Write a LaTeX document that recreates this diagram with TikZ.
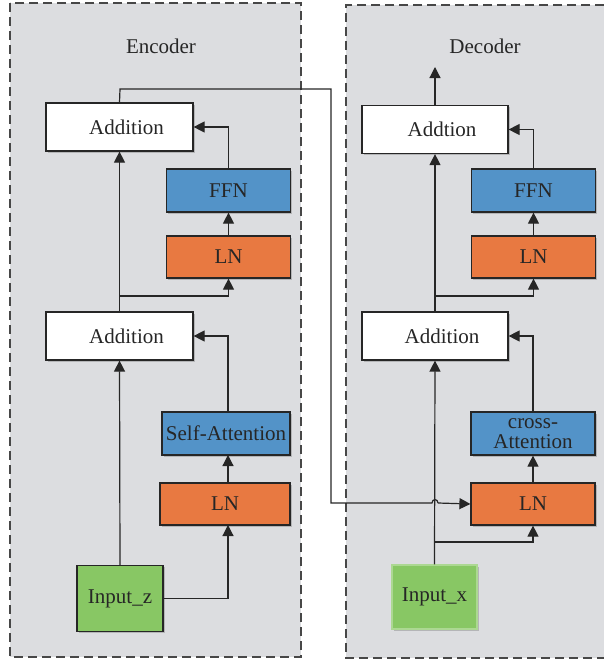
\documentclass[tikz,border=0pt]{standalone}
\usepackage{fontspec}
\setmainfont{Liberation Serif}
\usetikzlibrary{arrows.meta,shadows}
\definecolor{panelgray}{HTML}{DCDDE0}
\definecolor{lnorange}{HTML}{E87941}
\definecolor{ffnblue}{HTML}{5393C8}
\definecolor{ingreen}{HTML}{88C764}
\definecolor{ink}{HTML}{262626}
\tikzset{
  basebox/.style={draw=ink, line width=1.2pt, inner sep=0pt, text=ink,
    font=\fontsize{21}{19.5}\selectfont, align=center,
    drop shadow={shadow xshift=1.5pt, shadow yshift=-1.5pt, fill=black, opacity=0.18}},
  addbox/.style={basebox, fill=white, minimum width=147pt, minimum height=48pt},
  lnbox/.style={basebox, fill=lnorange, minimum width=124pt, minimum height=42pt},
  bluebox/.style={basebox, fill=ffnblue, minimum width=124pt, minimum height=43pt},
  inbox/.style={basebox, fill=ingreen, minimum width=86pt, minimum height=66pt},
  conn/.style={draw=ink, line width=1.2pt},
  arr/.style={conn, -{Triangle[length=11pt,width=11pt]}},
  panel/.style={draw=ink!85, line width=1.1pt, dash pattern=on 9pt off 5pt},
  titletext/.style={text=ink, font=\fontsize{21}{21}\selectfont}
}
\begin{document}
\begin{tikzpicture}[x=1pt,y=-1pt]
\useasboundingbox (0,0) rectangle (604,661);
% panels
\fill[panelgray] (10,3) rectangle (301,657);
\draw[panel] (10,3) rectangle (301,657);
\fill[panelgray] (346,5) rectangle (604,658);
\draw[panel] (604,5) -- (346,5) -- (346,658) -- (604,658);
\node[titletext] (enctitle) at (161,46) {Encoder};
\node[titletext] (dectitle) at (485,46) {Decoder};

% encoder nodes
\node[addbox] (eAdd2) at (119.5,127) {\hspace{14pt}Addition};
\node[bluebox] (eFFN) at (228.5,190.5) {FFN};
\node[lnbox] (eLN2) at (228.5,257) {LN};
\node[addbox] (eAdd1) at (119.5,336) {\hspace{14pt}Addition};
\node[bluebox, minimum width=128pt] (eSA) at (226,433.5) {Self-Attention};
\node[lnbox, minimum width=130pt] (eLN1) at (225,504) {LN};
\node[inbox] (inZ) at (120,598.5) {Input\_z};

% decoder nodes
\node[addbox, minimum width=146pt] (dAdd2) at (435,129.5) {\hspace{14pt}Addtion};
\node[bluebox] (dFFN) at (533.5,190.5) {FFN};
\node[lnbox] (dLN2) at (533.5,257) {LN};
\node[addbox, minimum width=146pt] (dAdd1) at (435,336) {\hspace{14pt}Addition};
\node[bluebox] (dCA) at (533,433.5) {cross-\\Attention};
\node[lnbox] (dLN1) at (533,504) {LN};
\node[inbox, draw=ingreen!70!white, minimum width=85pt, minimum height=64pt] (inX) at (434.5,597) {Input\_x};

% coordinates
\coordinate (eBr) at (120,296);
\coordinate (dBr) at (435,296);
\coordinate (dBr2) at (435,542);
\coordinate (out) at (435,67);
\coordinate (cTop) at (331,89);
\coordinate (cLeft) at (120,89);
\coordinate (cDown) at (331,503);
\coordinate (hopA) at (432,503);
\coordinate (hopB) at (438,503);
\coordinate (eLN1in) at (228,525);
\coordinate (eLN1out) at (228,483);
\coordinate (eSAin) at (228,455);
\coordinate (eSAout) at (228,412);

% encoder connectors
\draw[arr] (inZ.north) -- (eAdd1.south);
\draw[arr] (inZ.east) -| (eLN1in);
\draw[arr] (eLN1out) -- (eSAin);
\draw[arr] (eSAout) |- (eAdd1.east);
\draw[arr] (eAdd1.north) -- (eAdd2.south);
\draw[arr] (eBr) -| (eLN2.south);
\draw[arr] (eLN2.north) -- (eFFN.south);
\draw[arr] (eFFN.north) |- (eAdd2.east);
\draw[conn] (eAdd2.north) -- (cLeft) -- (cTop) -- (cDown) -- (hopA)
  .. controls (432,498.5) and (438,498.5) .. (hopB);
\draw[arr] (hopB) -- (dLN1.west);

% decoder connectors
\draw[arr] (inX.north) -- (dAdd1.south);
\draw[arr] (dBr2) -| (dLN1.south);
\draw[arr] (dLN1.north) -- (dCA.south);
\draw[arr] (dCA.north) |- (dAdd1.east);
\draw[arr] (dAdd1.north) -- (dAdd2.south);
\draw[arr] (dBr) -| (dLN2.south);
\draw[arr] (dLN2.north) -- (dFFN.south);
\draw[arr] (dFFN.north) |- (dAdd2.east);
\draw[arr] (dAdd2.north) -- (out);
\end{tikzpicture}
\end{document}
